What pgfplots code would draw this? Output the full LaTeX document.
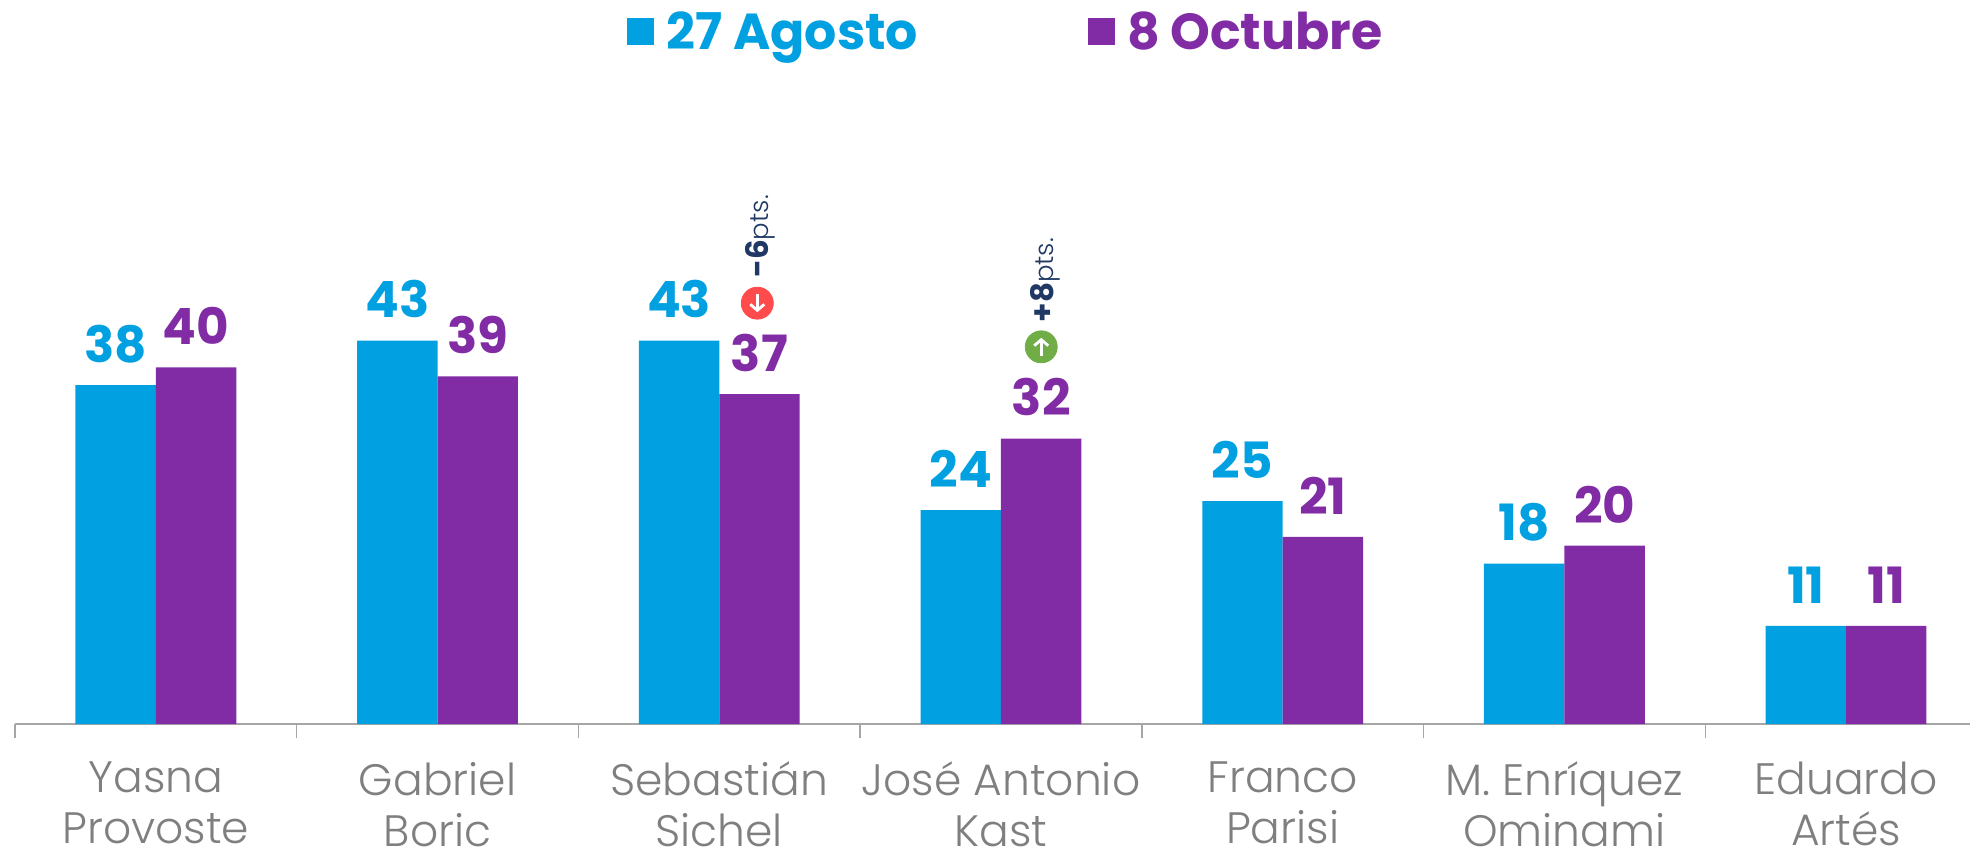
\documentclass[border=0pt]{standalone}
\usepackage{fontspec}
\setmainfont{Poppins}[BoldFont={Poppins Bold}]
\newfontfamily\lightfont{Poppins Light}
\usepackage{pgfplots}
\pgfplotsset{compat=1.18}
\usetikzlibrary{arrows.meta}
\definecolor{azul}{HTML}{00A0E1}
\definecolor{morado}{HTML}{812CA5}
\definecolor{gristxt}{HTML}{7F7F7F}
\definecolor{griseje}{HTML}{A6A6A6}
\definecolor{marino}{HTML}{1F3864}
\definecolor{rojo}{HTML}{FF4B4B}
\definecolor{verde}{HTML}{70AD47}
\begin{document}
\begin{tikzpicture}
\path[use as bounding box] (-7.5pt,-62pt) rectangle (977.5pt,362pt);
\begin{axis}[
  scale only axis, width=977.5pt, height=362pt,
  at={(0pt,0pt)},
  xmin=-0.5, xmax=6.44,
  ymin=0, ymax=81.2,
  clip=false,
  axis x line=bottom, axis y line=none,
  axis line style={griseje, line width=1pt, -},
  xtick={0,...,6},
  major x tick style={draw=none},
  minor xtick={-0.5,0.5,1.5,2.5,3.5,4.5,5.5},
  minor tick length=7pt,
  tick align=outside,
  minor x tick style={griseje, line width=0.7pt},
  xticklabels={Yasna\\Provoste,Gabriel\\Boric,Sebastián\\Sichel,José Antonio\\Kast,Franco\\Parisi,M. Enríquez\\Ominami,Eduardo\\Artés},
  xticklabel style={align=center, font=\lightfont\fontsize{22}{25.5}\selectfont, text=gristxt, inner sep=0pt, yshift=-14.5pt},
  /pgf/number format/assume math mode=true,
  nodes near coords,
  every node near coord/.append style={font=\bfseries\fontsize{25}{25}\selectfont, inner sep=0pt, anchor=south, yshift=11pt},
  legend columns=2,
  legend cell align=left,
  legend style={draw=none, fill=none, at={(0.31,1.0)}, anchor=north west, yshift=-1.7pt, font=\bfseries\fontsize{25.3}{27}\selectfont,
    /tikz/every even column/.append style={column sep=83pt}},
  legend image code/.code={\fill[#1] (0pt,-6.5pt) rectangle (13.5pt,7pt);},
]
\addplot[ybar, bar width=40.2pt, bar shift=-20.1pt, fill=azul, draw=none,
  every node near coord/.append style={text=azul, xshift=-20.1pt}]
  coordinates {(0,38)(1,43)(2,43)(3,24)(4,25)(5,18)(6,11)};
\addlegendentry{\hspace{4pt}\textcolor{azul}{27 Agosto}}
\addplot[ybar, bar width=40.2pt, bar shift=20.1pt, fill=morado, draw=none,
  every node near coord/.append style={text=morado, xshift=20.1pt}]
  coordinates {(0,40)(1,39)(2,37)(3,32)(4,21)(5,20)(6,11)};
\addlegendentry{\hspace{4pt}\textcolor{morado}{8 Octubre}}
% circulos de variacion
\addplot[forget plot, only marks, mark=*, mark size=8pt, mark options={draw=rojo, fill=rojo}, nodes near coords={}]
  coordinates {(2.135,47.2)};
\addplot[forget plot, only marks, mark=*, mark size=8pt, mark options={draw=verde, fill=verde}, nodes near coords={}]
  coordinates {(3.143,42.3)};
\coordinate (baja) at (axis cs:2.135,47.2);
\coordinate (sube) at (axis cs:3.143,42.3);
\node[rotate=90, anchor=base west, inner sep=0pt, text=marino]
  at (axis cs:2.174,50) {\fontsize{15.5}{16}\selectfont\textbf{-6}{\lightfont\fontsize{13}{14}\selectfont pts.}};
\node[rotate=90, anchor=base west, inner sep=0pt, text=marino]
  at (axis cs:3.186,45) {\fontsize{15.5}{16}\selectfont\textbf{+8}{\lightfont\fontsize{13}{14}\selectfont pts.}};
\end{axis}
% flechas encima de los circulos
\draw[white, line width=1.4pt, -{Straight Barb[length=3pt,width=7pt]}]
  (baja) ++(0,4.5pt) -- ++(0,-9pt);
\draw[white, line width=1.4pt, -{Straight Barb[length=3pt,width=7pt]}]
  (sube) ++(0,-4.5pt) -- ++(0,9pt);
\end{tikzpicture}
\end{document}
